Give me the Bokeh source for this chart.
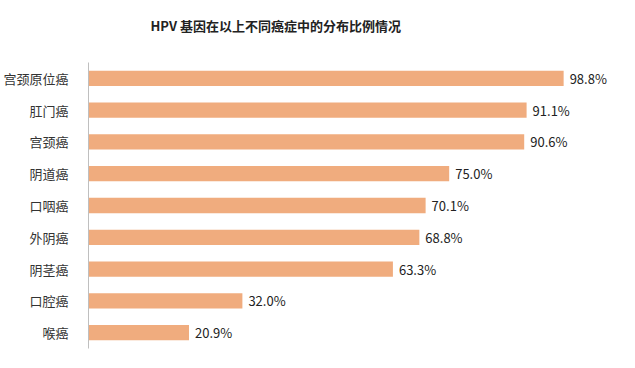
from bokeh.plotting import figure
from bokeh.models import ColumnDataSource, Range1d, FactorRange, Title
from bokeh.embed import file_html
from bokeh.resources import INLINE
from bokeh.core.properties import value

categories = ["宫颈原位癌", "肛门癌", "宫颈癌", "阴道癌", "口咽癌", "外阴癌", "阴茎癌", "口腔癌", "喉癌"]
values = [98.8, 91.1, 90.6, 75.0, 70.1, 68.8, 63.3, 32.0, 20.9]
labels = [f"{v:.1f}%" for v in values]
title_text = "HPV 基因在以上不同癌症中的分布比例情况"

FONT = "Noto Sans CJK SC"

src = ColumnDataSource(dict(cat=categories, val=values, lab=labels))

p = figure(
    width=619, height=360,
    y_range=FactorRange(*reversed(categories), range_padding=0),
    x_range=Range1d(0, 110),
    output_backend="svg", toolbar_location=None,
    min_border_left=80, min_border_right=2, min_border_top=62, min_border_bottom=12,
    title=title_text,
)
p.hbar(y="cat", right="val", height=0.48, left=0, source=src,
       fill_color="#F0AC7E", line_color=None)
p.text(x="val", y="cat", text="lab", source=src, x_offset=6,
       text_align="left", text_baseline="middle",
       text_font=value(FONT), text_font_size="13px", text_color="#222222")

# spacer between title and plot frame
p.add_layout(Title(text=" ", text_font_size="1px", standoff=25), "above")

p.title.text_font = FONT
p.title.text_font_size = "13px"
p.title.text_font_style = "bold"
p.title.text_color = "#222222"
p.title.align = "left"
p.title.offset = 62
p.title.standoff = 0

p.xaxis.visible = False
p.xgrid.visible = False
p.ygrid.visible = False
p.outline_line_color = None
yax = p.yaxis[0]
yax.axis_line_color = "#BFBFBF"
yax.axis_line_width = 1
yax.major_tick_line_color = None
yax.minor_tick_line_color = None
yax.major_label_standoff = 14
yax.major_label_text_font = FONT
yax.major_label_text_font_size = "13px"
yax.major_label_text_color = "#333333"

open("out.html", "w").write(file_html(p, INLINE))
